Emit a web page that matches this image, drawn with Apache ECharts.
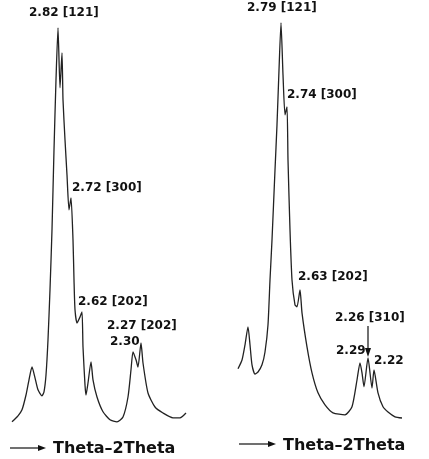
<!DOCTYPE html>
<html>
<head>
<meta charset="utf-8">
<script src="https://cdn.jsdelivr.net/npm/echarts@6/dist/echarts.min.js"></script>
<style>
  html, body { margin: 0; padding: 0; background: #fff; }
  #main { width: 429px; height: 459px; }
</style>
</head>
<body>
<div id="main"></div>
<script>
// 2theta (deg) and relative intensity
var twoThetaA = [27.2, 27.8, 28.2, 28.6, 28.9, 29.2, 29.5, 29.8, 30.2, 30.4, 30.6, 30.8, 31.0, 31.2, 31.4, 31.6, 31.8,
  32.0, 32.2, 32.3, 32.5, 32.7, 32.9, 33.1, 33.3, 33.4, 33.5, 33.7, 34.0, 34.2, 34.3, 34.5, 34.6, 34.8, 35.1, 35.3,
  35.7, 36.3, 37.0, 37.7, 38.3, 38.8, 39.1, 39.3, 39.6, 39.8, 40.1, 40.3, 40.8, 41.5, 42.3, 43.3, 44.0, 44.6];
var intensityA = [0.8, 2.3, 3.8, 7.5, 11.3, 14.5, 11.8, 8.8, 7.3, 8.3, 12.5, 21.3, 33.8, 48.8, 68.8, 86.3, 99.3,
  84.3, 93, 81.3, 71.3, 62.5, 53.8, 56.8, 46.3, 36.3, 28.8, 25.5, 27, 28.3, 19.5, 10, 7.5, 10.5, 15.8, 11.3,
  7, 3.3, 1.3, 0.8, 2, 7, 13.8, 18.3, 16.3, 14.5, 20.5, 15.5, 8, 4.5, 3, 1.8, 1.8, 3];

var twoThetaB = [27.7, 28.1, 28.4, 28.7, 28.9, 29.1, 29.4, 29.7, 30.1, 30.4, 30.7, 30.9, 31.1, 31.4, 31.6, 31.8, 32.0,
  32.2, 32.4, 32.6, 32.7, 32.9, 33.1, 33.4, 33.6, 33.9, 34.1, 34.6, 35.1, 35.7, 36.4, 37.2, 38.4, 39.1, 39.6,
  39.9, 40.1, 40.3, 40.7, 41.1, 41.3, 41.7, 42.2, 42.7, 43.4, 44.1];
var intensityB = [12.8, 15, 18.8, 23.3, 18.8, 13.8, 11.5, 12, 13.8, 17, 23.8, 35, 45, 62.5, 73.8, 87.5, 99.3,
  86.3, 76.3, 78.3, 65, 47.5, 35, 28.8, 28.3, 32.5, 26.8, 18.3, 11.8, 6.8, 3.8, 1.8, 1.3, 3.3, 10,
  14.3, 11.8, 8.3, 15.5, 8, 12.5, 6.8, 3.3, 2, 0.8, 0.5];

var peakLabelsA = ['2.82 [121]', '2.72 [300]', '2.62 [202]', '2.27 [202]', '2.30'];
var peakLabelsB = ['2.79 [121]', '2.74 [300]', '2.63 [202]', '2.26 [310]', '2.29', '2.22'];
var axisTitle = 'Theta\u20132Theta';

function pairs(xs, ys) {
  return xs.map(function (x, i) { return [x, ys[i]]; });
}

var lineStyle = { color: '#222', width: 1.3 };
var labelFont = 'bold 12px "DejaVu Sans"';

function txt(s, x, y, font) {
  return {
    type: 'text', left: x, top: y - 7,
    style: { text: s, font: font || labelFont, fill: '#111' }
  };
}
function arrowRight(x1, x2, y) {
  return [
    { type: 'line', shape: { x1: x1, y1: y, x2: x2 - 6, y2: y }, style: { stroke: '#111', lineWidth: 1.2 } },
    { type: 'polygon', shape: { points: [[x2, y], [x2 - 8, y - 3], [x2 - 8, y + 3]] }, style: { fill: '#111' } }
  ];
}

var chart = echarts.init(document.getElementById('main'));
var option = {
  backgroundColor: '#fff',
  animation: false,
  grid: [
    { left: 10, width: 180, top: 25, height: 400 },
    { left: 231, width: 180, top: 20, height: 400 }
  ],
  xAxis: [
    { type: 'value', gridIndex: 0, min: 27, max: 45, show: false },
    { type: 'value', gridIndex: 1, min: 27, max: 45, show: false }
  ],
  yAxis: [
    { type: 'value', gridIndex: 0, min: 0, max: 100, show: false },
    { type: 'value', gridIndex: 1, min: 0, max: 100, show: false }
  ],
  series: [
    { type: 'line', xAxisIndex: 0, yAxisIndex: 0, data: pairs(twoThetaA, intensityA),
      showSymbol: false, smooth: 0.2, lineStyle: lineStyle },
    { type: 'line', xAxisIndex: 1, yAxisIndex: 1, data: pairs(twoThetaB, intensityB),
      showSymbol: false, smooth: 0.2, lineStyle: lineStyle }
  ],
  graphic: [
    txt(peakLabelsA[0], 29, 14),
    txt(peakLabelsA[1], 72, 189),
    txt(peakLabelsA[2], 78, 303),
    txt(peakLabelsA[3], 107, 327),
    txt(peakLabelsA[4], 110, 343),
    txt(peakLabelsB[0], 247, 9),
    txt(peakLabelsB[1], 287, 96),
    txt(peakLabelsB[2], 298, 278),
    txt(peakLabelsB[3], 335, 319),
    txt(peakLabelsB[4], 336, 352),
    txt(peakLabelsB[5], 374, 362),
    { type: 'line', shape: { x1: 368, y1: 326, x2: 368, y2: 350 }, style: { stroke: '#111', lineWidth: 1.2 } },
    { type: 'polygon', shape: { points: [[368, 357], [365, 348], [371, 348]] }, style: { fill: '#111' } },
    txt(axisTitle, 53, 448, 'bold 16px "DejaVu Sans"'),
    txt(axisTitle, 283, 445, 'bold 16px "DejaVu Sans"')
  ].concat(arrowRight(10, 46, 448), arrowRight(239, 276, 444))
};
chart.setOption(option);
</script>
</body>
</html>
